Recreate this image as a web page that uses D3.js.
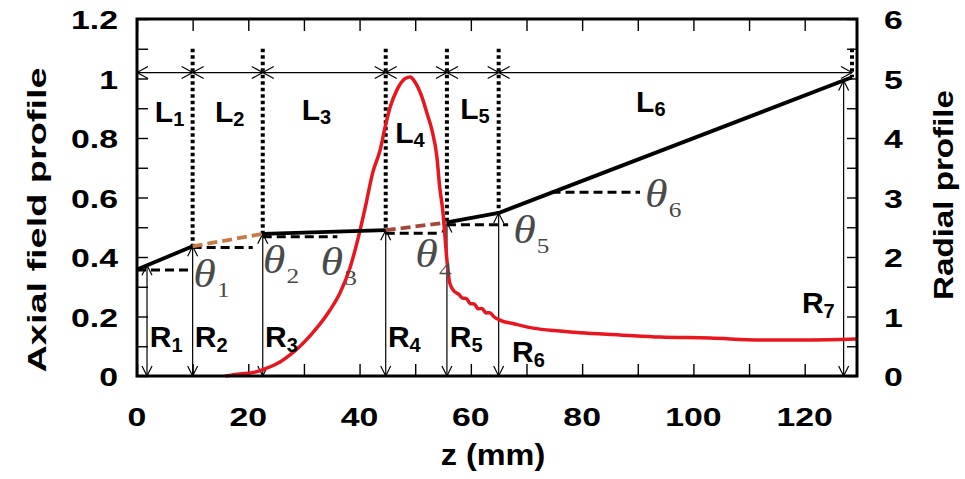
<!DOCTYPE html>
<html>
<head>
<meta charset="utf-8">
<script src="https://cdn.jsdelivr.net/npm/d3@7"></script>
<style>
  html, body { margin: 0; padding: 0; background: #fff; }
  svg { display: block; }
  .sans { font-family: "Liberation Sans", Arial, sans-serif; font-weight: bold; fill: #000; }
  .theta { font-family: "Liberation Serif", "Times New Roman", serif; fill: #4a4a4a; }
</style>
</head>
<body>
<svg id="chart" width="965" height="479"></svg>
<script>
// ---- data ----
// axial field profile (left axis)
const fieldZ = [15.8, 18.5, 21.2, 23.0, 25.7, 27.5, 29.3, 31.1, 32.9, 34.7, 36.5, 38.3, 39.7, 41.0, 42.4, 43.7, 44.6, 45.5, 46.7, 48.2, 49.1, 49.95, 51.2, 52.1, 53.0, 53.9, 54.4, 55.0, 55.3, 55.7, 56.2, 57.0, 57.8, 58.5, 59.2, 59.9, 60.6, 61.3, 62.0, 62.7, 63.4, 64.1, 65.2, 67.9, 71.2, 76.0, 79.6, 86.8, 94.0, 103.0, 111.9, 120.9, 129.2];
const fieldVal = [0, 0.007, 0.013, 0.024, 0.047, 0.071, 0.1, 0.135, 0.175, 0.222, 0.28, 0.365, 0.46, 0.565, 0.686, 0.76, 0.837, 0.904, 0.961, 1.0, 1.005, 0.988, 0.938, 0.884, 0.827, 0.736, 0.635, 0.548, 0.481, 0.39, 0.313, 0.285, 0.275, 0.262, 0.26, 0.243, 0.242, 0.226, 0.227, 0.212, 0.213, 0.2, 0.188, 0.175, 0.161, 0.151, 0.145, 0.138, 0.131, 0.128, 0.121, 0.121, 0.124];

// piecewise radial profile (right axis)
const zBreaks = [0, 10, 22.6, 44.7, 55.7, 65, 128.5];
const radius = [1.79, 2.18, 2.39, 2.45, 2.58, 2.74, 5.02];
// segments drawn dashed (index of segment start) and their colours
const dashedSegments = [1, 3];
const dashedColors = ["#c57a48", "#a5473a"];

// section names
const sectionLabels = ["1", "2", "3", "4", "5", "6"];
const sectionZ = [3.2, 14.0, 29.6, 46.4, 58.1, 89.7];
const sectionR = [4.27, 4.27, 4.30, 3.92, 4.32, 4.44];

// radius markers
const radiusLabels = ["1", "2", "3", "4", "5", "6", "7"];
const radiusArrowZ = [1.8, 10, 22.6, 44.7, 55.7, 65, 127];
const radiusLabelZ = [2.3, 10.4, 23.0, 45.1, 56.2, 67.4, 119.5];
const radiusLabelR = [0.49, 0.49, 0.49, 0.49, 0.49, 0.235, 1.06];

// taper angle references
const thetaLabels = ["1", "2", "3", "4", "5", "6"];
const thetaStartZ = [0, 10, 22.6, 44.7, 55.7, 74.5];
const thetaEndZ = [10, 20.8, 36, 53.9, 66.7, 90.4];
const thetaLineR = [1.78, 2.16, 2.34, 2.40, 2.54, 3.09];
const thetaLabelZ = [10.1, 22.6, 33.0, 50.0, 67.6, 91.3];
const thetaLabelR = [1.50, 1.73, 1.70, 1.83, 2.24, 2.84];

// dimension line / divider tops
const dimensionR = 5.1;
const dividerTopR = 5.5;

// axes
const leftTicks = [0, 0.2, 0.4, 0.6, 0.8, 1.0, 1.2];
const leftTickLabels = ["0", "0.2", "0.4", "0.6", "0.8", "1", "1.2"];
const rightTicks = [0, 1, 2, 3, 4, 5, 6];
const rightTickLabels = ["0", "1", "2", "3", "4", "5", "6"];
const bottomTicks = [0, 20, 40, 60, 80, 100, 120];
const bottomTickLabels = ["0", "20", "40", "60", "80", "100", "120"];

// ---- drawing ----
const svg = d3.select("#chart");
const L = 137, R = 857, T = 19, B = 376;

const x = d3.scaleLinear().domain([0, 129.4]).range([L, R]);
const yL = d3.scaleLinear().domain([0, 1.2]).range([B, T]);
const yR = d3.scaleLinear().domain([0, 6]).range([B, T]);

const radiusAt = z => {
  const i = Math.max(0, Math.min(zBreaks.length - 2, d3.bisectRight(zBreaks, z) - 1));
  const t = (z - zBreaks[i]) / (zBreaks[i + 1] - zBreaks[i]);
  return radius[i] + t * (radius[i + 1] - radius[i]);
};

// tick marks (inward)
svg.append("g").attr("transform", `translate(${L},0)`)
  .call(d3.axisLeft(yL).tickValues(d3.range(0, 1.201, 0.1)).tickSize(-11).tickFormat(""))
  .call(g => g.select(".domain").remove());
svg.append("g").attr("transform", `translate(${R},0)`)
  .call(d3.axisRight(yR).tickValues(d3.range(0, 6.01, 0.5)).tickSize(-10).tickFormat(""))
  .call(g => g.select(".domain").remove());
svg.append("g").attr("transform", `translate(0,${B})`)
  .call(d3.axisBottom(x).tickValues(d3.range(0, 121, 10)).tickSize(-12).tickFormat(""))
  .call(g => g.select(".domain").remove());
svg.append("g").attr("transform", `translate(0,${T})`)
  .call(d3.axisTop(x).tickValues(d3.range(0, 121, 10)).tickSize(-12).tickFormat(""))
  .call(g => g.select(".domain").remove());
svg.selectAll(".tick line").attr("stroke", "#000").attr("stroke-width", 1.4);

// tick labels
const stretch = 1.3;
leftTicks.forEach((v, i) => {
  svg.append("text").attr("class", "sans").attr("font-size", 26)
    .attr("text-anchor", "end").attr("dominant-baseline", "central")
    .attr("transform", `translate(118,${yL(v) + 1}) scale(${stretch},1)`)
    .text(leftTickLabels[i]);
});
rightTicks.forEach((v, i) => {
  svg.append("text").attr("class", "sans").attr("font-size", 26)
    .attr("text-anchor", "start").attr("dominant-baseline", "central")
    .attr("transform", `translate(884,${yR(v) + 1}) scale(${stretch},1)`)
    .text(rightTickLabels[i]);
});
bottomTicks.forEach((v, i) => {
  svg.append("text").attr("class", "sans").attr("font-size", 26)
    .attr("text-anchor", "middle").attr("dominant-baseline", "central")
    .attr("transform", `translate(${x(v)},417) scale(${stretch},1)`)
    .text(bottomTickLabels[i]);
});

// axis titles
svg.append("text").attr("class", "sans").attr("font-size", 30)
  .attr("text-anchor", "middle").attr("dominant-baseline", "central")
  .attr("transform", `translate(493,455) scale(1.08,1)`)
  .text("z (mm)");
svg.append("text").attr("class", "sans").attr("font-size", 26)
  .attr("text-anchor", "middle").attr("dominant-baseline", "central")
  .attr("textLength", 305).attr("lengthAdjust", "spacingAndGlyphs")
  .attr("transform", "translate(37,220) rotate(-90)")
  .text("Axial field profile");
svg.append("text").attr("class", "sans").attr("font-size", 28)
  .attr("text-anchor", "middle").attr("dominant-baseline", "central")
  .attr("textLength", 210).attr("lengthAdjust", "spacingAndGlyphs")
  .attr("transform", "translate(943,195) rotate(-90)")
  .text("Radial profile");

// dimension line along the top with arrowheads
const yDim = yR(dimensionR);
const thin = svg.append("g").attr("fill", "none").attr("stroke", "#000").attr("stroke-width", 1.2);
thin.append("line").attr("x1", x(0)).attr("x2", x(zBreaks[zBreaks.length - 1])).attr("y1", yDim).attr("y2", yDim);
const head = (px, py, dx, dy) => `M${px + dx},${py - dy}L${px},${py}L${px + dx},${py + dy}`;
thin.append("path").attr("d", head(x(0), yDim, 11, 6));
thin.append("path").attr("d", head(x(zBreaks[zBreaks.length - 1]), yDim, -11, 6));
zBreaks.slice(1, -1).forEach(z => {
  thin.append("path").attr("d", head(x(z), yDim, -11, 6) + head(x(z), yDim, 11, 6));
});

// vertical radius arrows
radiusArrowZ.forEach(z => {
  const px = x(z), top = yR(radiusAt(z));
  thin.append("line").attr("x1", px).attr("x2", px).attr("y1", top).attr("y2", B);
  thin.append("path").attr("d", `M${px - 5},${top + 10}L${px},${top}L${px + 5},${top + 10}`);
  thin.append("path").attr("d", `M${px - 5},${B - 10}L${px},${B}L${px + 5},${B - 10}`);
});

// dotted section dividers
zBreaks.slice(1).forEach(z => {
  svg.append("line").attr("x1", x(z)).attr("x2", x(z))
    .attr("y1", yR(dividerTopR)).attr("y2", yR(radiusAt(z)))
    .attr("stroke", "#000").attr("stroke-width", 4).attr("stroke-dasharray", "3.5,3");
});

// taper angle reference lines
thetaStartZ.forEach((z0, i) => {
  svg.append("line").attr("x1", x(z0)).attr("x2", x(thetaEndZ[i]))
    .attr("y1", yR(thetaLineR[i])).attr("y2", yR(thetaLineR[i]))
    .attr("stroke", "#000").attr("stroke-width", 3).attr("stroke-dasharray", "9,5");
});

// axial field curve
const fieldLine = d3.line().x(d => x(d[0])).y(d => yL(d[1])).curve(d3.curveMonotoneX);
svg.append("path").datum(d3.zip(fieldZ, fieldVal))
  .attr("d", fieldLine).attr("fill", "none")
  .attr("stroke", "#e8161e").attr("stroke-width", 3.5).attr("stroke-linejoin", "round");

// radial profile segments
for (let i = 0; i < zBreaks.length - 1; i++) {
  const k = dashedSegments.indexOf(i);
  svg.append("line")
    .attr("x1", x(zBreaks[i])).attr("y1", yR(radius[i]))
    .attr("x2", x(zBreaks[i + 1])).attr("y2", yR(radius[i + 1]))
    .attr("stroke", k >= 0 ? dashedColors[k] : "#000")
    .attr("stroke-width", 3.8)
    .attr("stroke-dasharray", k >= 0 ? "10,5" : null);
}

// frame
svg.append("rect").attr("x", L).attr("y", T).attr("width", R - L).attr("height", B - T)
  .attr("fill", "none").attr("stroke", "#000").attr("stroke-width", 3);

// section labels L1..L6
sectionLabels.forEach((s, i) => {
  const t = svg.append("text").attr("class", "sans").attr("font-size", 30)
    .attr("x", x(sectionZ[i])).attr("y", yR(sectionR[i]));
  t.append("tspan").text("L");
  t.append("tspan").attr("font-size", 20).attr("dy", 4).text(s);
});

// radius labels R1..R7
radiusLabels.forEach((s, i) => {
  const t = svg.append("text").attr("class", "sans").attr("font-size", 30)
    .attr("x", x(radiusLabelZ[i])).attr("y", yR(radiusLabelR[i]));
  t.append("tspan").text("R");
  t.append("tspan").attr("font-size", 20).attr("dy", 5).text(s);
});

// theta labels (italic symbol with upright subscript)
thetaLabels.forEach((s, i) => {
  const px = x(thetaLabelZ[i]), py = yR(thetaLabelR[i]);
  const t = svg.append("text").attr("class", "theta")
    .attr("transform", `translate(${px},${py}) scale(1.15,1)`);
  t.append("tspan").attr("font-size", 40).attr("font-style", "italic").text("θ");
  t.append("tspan").attr("font-size", 22).attr("dx", 1).attr("dy", 10).text(s);
});
</script>
</body>
</html>
